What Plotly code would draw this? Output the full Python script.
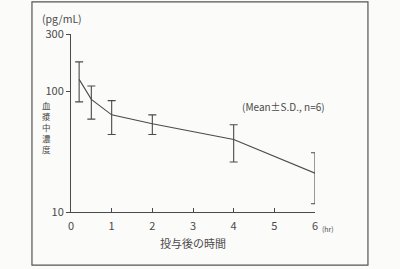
import plotly.graph_objects as go

# Data
time_hr = [0.2, 0.5, 1, 2, 4, 6]
mean_conc = [126, 86, 64, 54, 40, 21]
sd_plus = [50, 25, 20, 10, 13, 10]
sd_minus = [44, 27, 20, 10, 14, 9.3]

x_ticks = [0, 1, 2, 3, 4, 5, 6]
y_ticks = [10, 100, 300]
y_title_chars = ["血", "漿", "中", "濃", "度"]

FONT = "Noto Sans CJK JP"
INK = "#4a4a4a"

fig = go.Figure()
fig.add_trace(go.Scatter(
    x=time_hr, y=mean_conc, mode="lines",
    line=dict(color=INK, width=1.1),
    error_y=dict(type="data", array=sd_plus, arrayminus=sd_minus,
                 color=INK, thickness=1.1, width=4),
    cliponaxis=False,
    showlegend=False,
))

annotations = [
    dict(text="(pg/mL)", xref="paper", yref="paper", x=-0.127, y=(212 - 19) / 178,
         xanchor="left", yanchor="middle", showarrow=False, font=dict(size=10.5)),
    dict(text="<br>".join(y_title_chars), xref="paper", yref="paper",
         x=(46 - 71) / 244, y=(212 - 127) / 178,
         xanchor="center", yanchor="middle", showarrow=False,
         font=dict(size=8.5), align="center"),
    dict(text="(Mean±S.D., n=6)", xref="paper", yref="paper", x=1.048, y=0.59,
         xanchor="right", yanchor="middle", showarrow=False, font=dict(size=10)),
    dict(text="(hr)", xref="paper", yref="paper", x=1.02, y=-0.095,
         xanchor="left", yanchor="middle", showarrow=False, font=dict(size=7)),
    dict(text="投与後の時間", xref="paper", yref="paper", x=0.5, y=-0.175,
         xanchor="center", yanchor="middle", showarrow=False, font=dict(size=11)),
]

fig.update_layout(
    width=400, height=269,
    margin=dict(l=71, r=85, t=34, b=57),
    paper_bgcolor="#fbfbf9", plot_bgcolor="#fbfbf9",
    font=dict(family=FONT, color=INK, size=10),
    xaxis=dict(range=[0, 6], tickvals=x_ticks, ticktext=[str(v) for v in x_ticks],
               showgrid=False, zeroline=False, showline=True, linecolor=INK, linewidth=1,
               ticks="inside", ticklen=4, tickcolor=INK, tickfont=dict(size=11),
               ticklabelstandoff=4),
    yaxis=dict(type="log", range=[1, 2.4771], tickvals=y_ticks,
               ticktext=[str(v) for v in y_ticks],
               showgrid=False, zeroline=False, showline=True, linecolor=INK, linewidth=1,
               ticks="outside", ticklen=4, tickcolor=INK, tickfont=dict(size=11)),
    shapes=[dict(type="rect", xref="paper", yref="paper",
                 x0=-0.16, x1=1.217, y0=-0.298, y1=1.18,
                 line=dict(color="#555555", width=1.2))],
    annotations=annotations,
)

fig.write_html("out.html")
